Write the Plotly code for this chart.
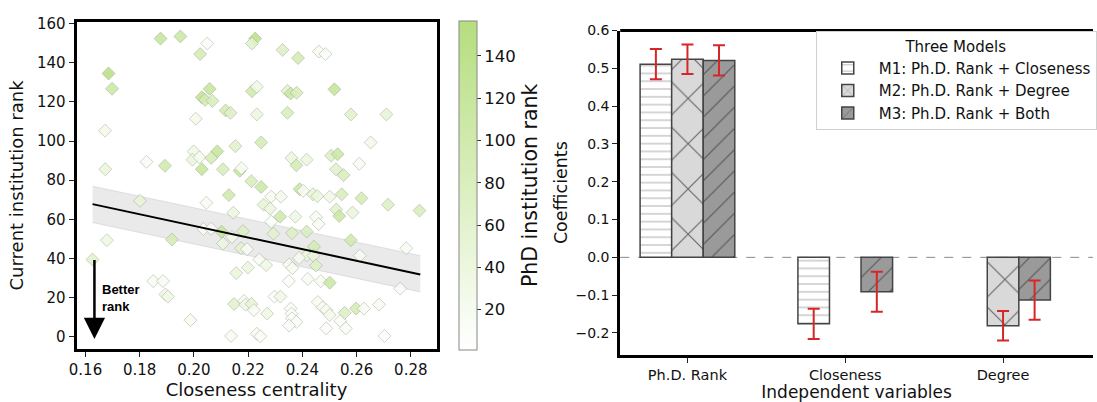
import plotly.graph_objects as go

# ---------------- Left panel data ----------------
closeness = [0.1877, 0.1950, 0.2049, 0.2226, 0.2214, 0.2023, 0.2327, 0.2384, 0.2461, 0.2485,
             0.1685, 0.1698, 0.2058, 0.2029, 0.2041, 0.2068, 0.2007, 0.2117, 0.2135, 0.2214,
             0.2232, 0.2232, 0.2345, 0.2357, 0.2379, 0.2345, 0.2518, 0.2579, 0.2710, 0.1672,
             0.2248, 0.2153, 0.1999, 0.2086, 0.1995, 0.2020, 0.2064, 0.1825, 0.1893, 0.2029,
             0.2107, 0.2169, 0.2175, 0.2360, 0.2416, 0.2378, 0.2506, 0.2530, 0.2524, 0.2552,
             0.2610, 0.2652, 0.1673, 0.2212, 0.2248, 0.2129, 0.2285, 0.2321, 0.2257, 0.2281,
             0.2318, 0.2390, 0.2403, 0.2439, 0.2455, 0.2501, 0.2545, 0.2525, 0.2536, 0.2585,
             0.2618, 0.2716, 0.2832, 0.1801, 0.2046, 0.2145, 0.2374, 0.2450, 0.2460, 0.2285,
             0.1679, 0.1919, 0.2035, 0.2063, 0.2102, 0.2107, 0.2141, 0.2181, 0.2174, 0.2196,
             0.2293, 0.2362, 0.2416, 0.2443, 0.2416, 0.2388, 0.2441, 0.2579, 0.2612, 0.2783,
             0.1626, 0.2199, 0.2241, 0.2266, 0.2156, 0.2351, 0.2363, 0.2450, 0.2420, 0.2350,
             0.2468, 0.2501, 0.1850, 0.1886, 0.1895, 0.1904, 0.2297, 0.2319, 0.2761, 0.2148,
             0.2185, 0.2190, 0.2212, 0.2221, 0.2270, 0.2357, 0.2360, 0.2362, 0.2378, 0.2351,
             0.2457, 0.2475, 0.2488, 0.2501, 0.2488, 0.2540, 0.2560, 0.2556, 0.2598, 0.2627,
             0.2683, 0.2703, 0.2137, 0.2232, 0.2245, 0.1987]
current_rank = [152.3, 153.4, 149.8, 152.3, 149.8, 144.4, 146.5, 142.4, 145.7, 144.4,
                134.5, 126.7, 126.6, 122.3, 121.0, 120.5, 111.4, 115.6, 114.4, 125.4,
                127.7, 113.6, 125.6, 124.3, 124.6, 114.4, 126.4, 113.6, 113.6, 105.3,
                99.3, 97.4, 94.7, 94.7, 90.5, 91.7, 91.4, 89.4, 87.4, 85.6,
                85.6, 84.8, 86.1, 91.4, 90.5, 87.6, 92.5, 93.3, 85.6, 82.6,
                88.4, 99.3, 85.6, 79.5, 76.5, 72.4, 71.6, 71.6, 67.5, 65.5,
                61.4, 75.4, 74.6, 72.8, 71.9, 71.6, 72.8, 65.0, 61.7, 63.5,
                70.8, 67.5, 64.5, 69.5, 68.5, 63.4, 61.4, 61.2, 57.6, 58.8,
                49.4, 49.7, 55.1, 55.3, 53.7, 47.7, 51.0, 54.0, 45.3, 44.8,
                52.7, 53.0, 53.8, 46.1, 41.6, 40.3, 41.5, 49.4, 41.5, 45.3,
                39.5, 35.4, 39.5, 36.7, 32.6, 37.0, 35.1, 36.5, 29.6, 28.5,
                28.5, 27.7, 28.5, 28.5, 21.7, 20.6, 20.6, 20.6, 24.7, 16.8,
                18.4, 16.5, 16.8, 13.7, 11.9, 14.5, 11.9, 9.5, 7.7, 5.8,
                17.8, 15.1, 13.7, 11.2, 4.4, 8.2, 4.4, 12.3, 14.5, 14.5,
                16.5, 0.5, 0.5, 1.6, 0.3, 8.6]
phd_rank = [120, 110, 10, 140, 60, 90, 70, 90, 15, 10,
            145, 110, 120, 130, 90, 80, 25, 90, 70, 100,
            30, 40, 60, 110, 80, 80, 125, 60, 50, 25,
            90, 60, 30, 120, 40, 20, 90, 15, 100, 120,
            80, 120, 10, 40, 40, 90, 70, 110, 60, 80,
            15, 25, 45, 80, 110, 100, 20, 25, 50, 40,
            100, 110, 15, 50, 40, 30, 80, 60, 110, 45,
            90, 70, 80, 50, 15, 40, 35, 15, 15, 10,
            35, 90, 10, 10, 120, 40, 30, 70, 60, 15,
            60, 70, 80, 90, 40, 20, 45, 100, 15, 15,
            60, 40, 15, 35, 45, 15, 20, 70, 15, 10,
            15, 110, 15, 15, 30, 30, 10, 30, 15, 60,
            15, 30, 50, 15, 35, 10, 10, 10, 10, 10,
            15, 15, 15, 25, 10, 10, 10, 70, 90, 15,
            15, 10, 20, 15, 10, 20]

fit_x = [0.1626, 0.2835]
fit_y = [67.8, 31.9]
band_upper = [76.9, 41.5]
band_lower = [58.4, 23.0]

# ---------------- Right panel data ----------------
variables = ["Ph.D. Rank", "Closeness", "Degree"]
model_names = ["M1: Ph.D. Rank + Closeness", "M2: Ph.D. Rank + Degree", "M3: Ph.D. Rank + Both"]
m1_coef = [0.511, -0.176, None]
m1_err = [0.040, 0.040, None]
m2_coef = [0.524, None, -0.181]
m2_err = [0.039, None, 0.039]
m3_coef = [0.521, -0.091, -0.113]
m3_err = [0.040, 0.053, 0.052]

W, H = 1097, 402
FONT = "DejaVu Sans"

def px_x(p):
    return p / W

def px_y(p):
    return 1 - p / H

fig = go.Figure()

# confidence band
fig.add_trace(go.Scatter(x=fit_x, y=band_lower, mode="lines",
                         line=dict(color="rgba(200,200,200,0.5)", width=1),
                         showlegend=False, hoverinfo="skip", xaxis="x", yaxis="y"))
fig.add_trace(go.Scatter(x=fit_x, y=band_upper, mode="lines", fill="tonexty",
                         fillcolor="rgba(205,205,205,0.42)",
                         line=dict(color="rgba(200,200,200,0.5)", width=1),
                         showlegend=False, hoverinfo="skip", xaxis="x", yaxis="y"))

# scatter points
fig.add_trace(go.Scatter(
    x=closeness, y=current_rank, mode="markers", xaxis="x", yaxis="y",
    showlegend=False,
    marker=dict(symbol="diamond", size=10, color=phd_rank, cmin=1, cmax=156.5,
                colorscale=[[0, "#ffffff"], [1, "#b5de7e"]],
                opacity=0.88,
                line=dict(color="rgba(140,150,130,0.45)", width=1),
                colorbar=dict(x=px_x(455.7), xanchor="left", y=px_y(183.3), yanchor="middle",
                              len=340 / H, lenmode="fraction", thickness=17.6,
                              xpad=0, ypad=0,
                              outlinecolor="#888888", outlinewidth=1,
                              tickvals=[20, 40, 60, 80, 100, 120, 140],
                              ticks="outside", ticklen=4, tickcolor="#333",
                              tickfont=dict(family=FONT, size=16.5, color="#111"),
                              title=dict(text="PhD institution rank", side="right",
                                         font=dict(family=FONT, size=20.5, color="#111"))))))

# fit line
fig.add_trace(go.Scatter(x=fit_x, y=fit_y, mode="lines", line=dict(color="black", width=2),
                         showlegend=False, hoverinfo="skip", xaxis="x", yaxis="y"))

# bars
bar_specs = [
    (m1_coef, m1_err, model_names[0], "white", "-", 7.8, "#666666"),
    (m2_coef, m2_err, model_names[1], "#d9d9d9", "x", 32, "#666666"),
    (m3_coef, m3_err, model_names[2], "#9a9a9a", "/", 15, "#555555"),
]
for coef, err, name, fill, shape, size, fg in bar_specs:
    fig.add_trace(go.Bar(
        x=variables, y=coef, name=name, xaxis="x2", yaxis="y2",
        marker=dict(color=fill, line=dict(color="#444444", width=1.5),
                    pattern=dict(shape=shape, size=size, solidity=0.07,
                                 fgcolor=fg, bgcolor=fill, fillmode="replace")),
        error_y=dict(type="data", array=err, visible=True, color="#d62728",
                     thickness=2, width=6)))

fig.update_layout(
    width=W, height=H, margin=dict(l=0, r=0, t=0, b=0),
    paper_bgcolor="white", plot_bgcolor="white",
    font=dict(family=FONT, color="#111"),
    barmode="group", bargap=0.4, bargroupgap=0,
    xaxis=dict(domain=[px_x(69.3), px_x(433.3)], range=[0.1567, 0.2895],
               tickvals=[0.16, 0.18, 0.20, 0.22, 0.24, 0.26, 0.28], tickformat=".2f",
               ticks="outside", ticklen=5, tickwidth=1.2, tickcolor="#222",
               showline=True, linecolor="black", linewidth=3, mirror=True,
               showgrid=False, zeroline=False,
               tickfont=dict(family=FONT, size=15, color="#111"),
               title=dict(text="Closeness centrality", standoff=5,
                          font=dict(family=FONT, size=18, color="#111")),
               anchor="y"),
    yaxis=dict(domain=[px_y(352.7), px_y(14)], range=[-6.3, 161],
               tickvals=[0, 20, 40, 60, 80, 100, 120, 140, 160],
               ticks="outside", ticklen=5, tickwidth=1.2, tickcolor="#222",
               showline=True, linecolor="black", linewidth=3, mirror=True,
               showgrid=False, zeroline=False,
               tickfont=dict(family=FONT, size=15, color="#111"),
               title=dict(text="Current institution rank", standoff=9,
                          font=dict(family=FONT, size=18, color="#111")),
               anchor="x"),
    xaxis2=dict(domain=[px_x(619), 1.0], range=[-0.426, 2.57], type="category",
                ticks="outside", ticklen=5, tickwidth=1.2, tickcolor="#222",
                showline=True, linecolor="black", linewidth=3, mirror=False,
                showgrid=False, zeroline=False,
                tickfont=dict(family=FONT, size=14.5, color="#111"),
                title=dict(text="Independent variables", standoff=7,
                           font=dict(family=FONT, size=17, color="#111")),
                anchor="y2"),
    yaxis2=dict(domain=[px_y(358.3), px_y(23.3)], range=[-0.2576, 0.6],
                tickvals=[-0.2, -0.1, 0.0, 0.1, 0.2, 0.3, 0.4, 0.5, 0.6], tickformat=".1f",
                ticks="outside", ticklen=5, tickwidth=1.2, tickcolor="#222",
                showline=True, linecolor="black", linewidth=3, mirror=False,
                showgrid=False, zeroline=False,
                tickfont=dict(family=FONT, size=14, color="#111"),
                title=dict(text="Coefficients", standoff=4,
                           font=dict(family=FONT, size=17.5, color="#111")),
                anchor="x2"),
    legend=dict(x=px_x(816.7), y=px_y(24), xanchor="left", yanchor="top",
                bgcolor="white", bordercolor="#d0d0d0", borderwidth=1,
                font=dict(family=FONT, size=15, color="#111"),
                title=dict(text="Three Models", side="top center",
                           font=dict(family=FONT, size=15, color="#111")),
                itemwidth=52, traceorder="normal"),
    shapes=[
        dict(type="line", xref="x2 domain", yref="y2", x0=0, x1=1, y0=0, y1=0,
             line=dict(color="#888888", width=1, dash="dash"), layer="below"),
        dict(type="line", xref="x2 domain", yref="y2 domain", x0=0, x1=1, y0=1, y1=1,
             line=dict(color="black", width=3), layer="above"),
    ],
    annotations=[
        dict(x=0.1633, y=-1.0, ax=0.1633, ay=40, xref="x", yref="y", axref="x", ayref="y",
             showarrow=True, arrowhead=2, arrowsize=1.7, arrowwidth=2.5, arrowcolor="black",
             text=""),
        dict(x=0.1655, y=19.8, xref="x", yref="y", xanchor="left", yanchor="middle",
             showarrow=False, align="left", text="<b>Better<br>rank</b>",
             font=dict(family="Liberation Sans", size=13, color="black")),
    ],
)

fig.write_html("out.html")
